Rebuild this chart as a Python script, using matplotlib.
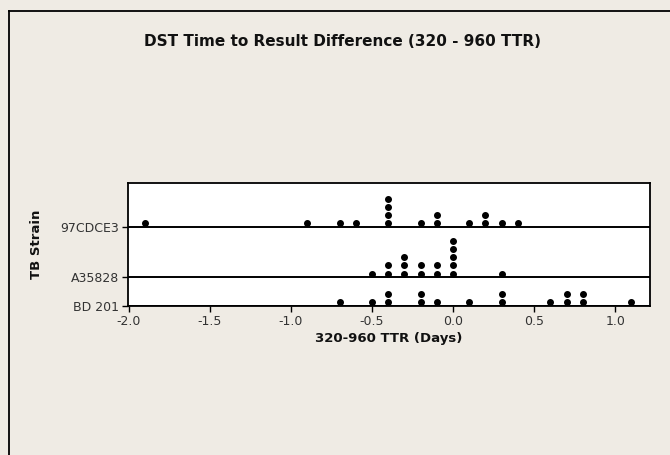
import matplotlib
matplotlib.use("Agg")
import matplotlib.pyplot as plt
import numpy as np
from collections import Counter

# ---- data ----
groups = ["BD 201", "A35828", "97CDCE3"]
bd201 = [-0.7, -0.5, -0.4, -0.4, -0.2, -0.2, -0.1, 0.1, 0.3, 0.3, 0.6, 0.7, 0.7, 0.8, 0.8, 1.1]
a35828 = [-0.5, -0.4, -0.4, -0.3, -0.3, -0.3, -0.2, -0.2, -0.1, -0.1,
          0.0, 0.0, 0.0, 0.0, 0.0, 0.3]
cdce3 = [-1.9, -0.9, -0.7, -0.6, -0.4, -0.4, -0.4, -0.4, -0.2, -0.1, -0.1,
         0.1, 0.2, 0.2, 0.3, 0.4]
series = [bd201, a35828, cdce3]
xticks = [-2.0, -1.5, -1.0, -0.5, 0.0, 0.5, 1.0]
xtick_labels = ["-2.0", "-1.5", "-1.0", "-0.5", "0.0", "0.5", "1.0"]

# ---- layout (in pixel-like vertical units) ----
baselines = [0.0, 28.7, 79.3]
ytop = 122.5
dot_offset = 3.8
dot_step = 8.1

bg = "#efebe4"
W, H = 670, 455
fig = plt.figure(figsize=(W / 100, H / 100), dpi=100, facecolor=bg)

# outer frame (left and top edges visible)
fig.add_artist(plt.Line2D([9 / W, 9 / W], [0, 1 - 10.5 / H], transform=fig.transFigure,
                          color="black", lw=1.3))
fig.add_artist(plt.Line2D([9 / W, 1], [1 - 10.5 / H, 1 - 10.5 / H], transform=fig.transFigure,
                          color="black", lw=1.3))

left, right = 128 / W, 650 / W
bottom, top = 1 - 306 / H, 1 - 183.5 / H
ax = fig.add_axes([left, bottom, right - left, top - bottom])
ax.set_facecolor("white")

for base, vals in zip(baselines, series):
    ax.axhline(base, color="black", lw=1.4, zorder=1)
    counts = Counter()
    xs, ys = [], []
    for v in vals:
        k = counts[v]
        counts[v] += 1
        xs.append(v)
        ys.append(base + dot_offset + k * dot_step)
    ax.plot(xs, ys, "o", color="black", markersize=4.0, zorder=3)

ax.set_xlim(-2.005, 1.215)
ax.set_ylim(0, ytop)
ax.set_xticks(xticks)
ax.set_xticklabels(xtick_labels)
ax.set_yticks(baselines)
ax.set_yticklabels(groups)
ax.tick_params(axis="both", direction="out", length=4, width=1, labelsize=9,
               colors="#333333", pad=2.5)
ax.tick_params(axis="both", color="black")
for s in ax.spines.values():
    s.set_linewidth(1.3)
    s.set_color("black")

ax.set_xlabel("320-960 TTR (Days)", fontsize=9.5, fontweight="bold", labelpad=3, color="#111111")
ax.set_ylabel("TB Strain", fontsize=9.5, fontweight="bold", color="#111111")
ax.yaxis.set_label_coords(-0.163, 0.5)

fig.text(343 / W, 1 - 41 / H, "DST Time to Result Difference (320 - 960 TTR)",
         ha="center", va="center", fontsize=11, fontweight="bold", color="#111111")

fig.savefig("out.png", dpi=100, facecolor=bg)
